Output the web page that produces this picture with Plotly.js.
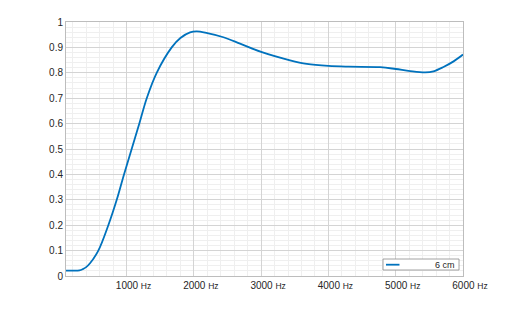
<!DOCTYPE html>
<html>
<head>
<meta charset="utf-8">
<script src="https://cdn.plot.ly/plotly-3.0.1.min.js"></script>
<style>html,body{margin:0;padding:0;background:#fff;}#chart{width:512px;height:310px;}</style>
</head>
<body>
<div id="chart"></div>
<script>
const freqHz = [100,200,300,350,400,457,580,729,854,962,1076,1190,1300,1448,1671,1800,1944,2043,2200,2439,2687,3000,3430,3679,4000,4300,4769,5000,5215,5437,5561,5710,5860,6000];
const absorption = [0.021,0.021,0.022,0.027,0.035,0.05,0.10,0.20,0.30,0.40,0.50,0.60,0.70,0.80,0.90,0.937,0.959,0.963,0.956,0.94,0.915,0.882,0.849,0.835,0.827,0.824,0.822,0.815,0.807,0.802,0.806,0.823,0.845,0.872];
const seriesName = '6 cm';
const xTickVals = [1000,2000,3000,4000,5000,6000];
const xTickText = xTickVals.map(v => v + ' <span style="font-size:8.5px">Hz</span>');
const yTickVals = [0,0.1,0.2,0.3,0.4,0.5,0.6,0.7,0.8,0.9,1];
const yTickText = ['0','0.1','0.2','0.3','0.4','0.5','0.6','0.7','0.8','0.9','1'];

const lineColor = '#0072BD';
const trace = {
  x: freqHz, y: absorption, type: 'scatter', mode: 'lines',
  name: seriesName, showlegend: false,
  line: {color: lineColor, width: 1.8, shape: 'spline', smoothing: 1}
};
const layout = {
  width: 512, height: 310,
  margin: {l: 66, r: 49, t: 22, b: 34},
  paper_bgcolor: '#fff', plot_bgcolor: '#fff',
  font: {family: 'Liberation Sans, Arial, sans-serif', size: 10, color: '#262626'},
  showlegend: false,
  xaxis: {range: [100, 6000], tickmode: 'array', tickvals: xTickVals, ticktext: xTickText,
          showgrid: true, gridcolor: '#d4d4d4', gridwidth: 1, zeroline: false,
          showline: true, linecolor: '#bdbdbd', mirror: true, ticks: '', ticklen: 0,
          ticklabelshift: 7,
          tickfont: {size: 10, color: '#262626'},
          minor: {tick0: 0, dtick: 200, showgrid: true, gridcolor: '#efefef', gridwidth: 1}},
  yaxis: {range: [0, 1], tickmode: 'array', tickvals: yTickVals, ticktext: yTickText,
          showgrid: true, gridcolor: '#d4d4d4', gridwidth: 1, zeroline: false,
          showline: true, linecolor: '#bdbdbd', mirror: true, ticks: '', ticklen: 0,
          tickfont: {size: 10, color: '#262626'},
          minor: {tick0: 0, dtick: 0.02, showgrid: true, gridcolor: '#efefef', gridwidth: 1}},
  shapes: [
    {type: 'rect', xref: 'paper', yref: 'paper', x0: 0.7985, x1: 0.99, y0: 0.0236, y1: 0.0669,
     fillcolor: '#ffffff', line: {color: '#8c8c8c', width: 0.8}, layer: 'above'},
    {type: 'line', xref: 'paper', yref: 'paper', x0: 0.806, x1: 0.840, y0: 0.0445, y1: 0.0445,
     line: {color: lineColor, width: 1.8}, layer: 'above'}
  ],
  annotations: [
    {xref: 'paper', yref: 'paper', x: 0.986, y: 0.0452, xanchor: 'right', yanchor: 'middle',
     text: seriesName, showarrow: false, font: {size: 9, color: '#262626'}}
  ]
};
Plotly.newPlot('chart', [trace], layout, {displayModeBar: false, staticPlot: true});
</script>
</body>
</html>
